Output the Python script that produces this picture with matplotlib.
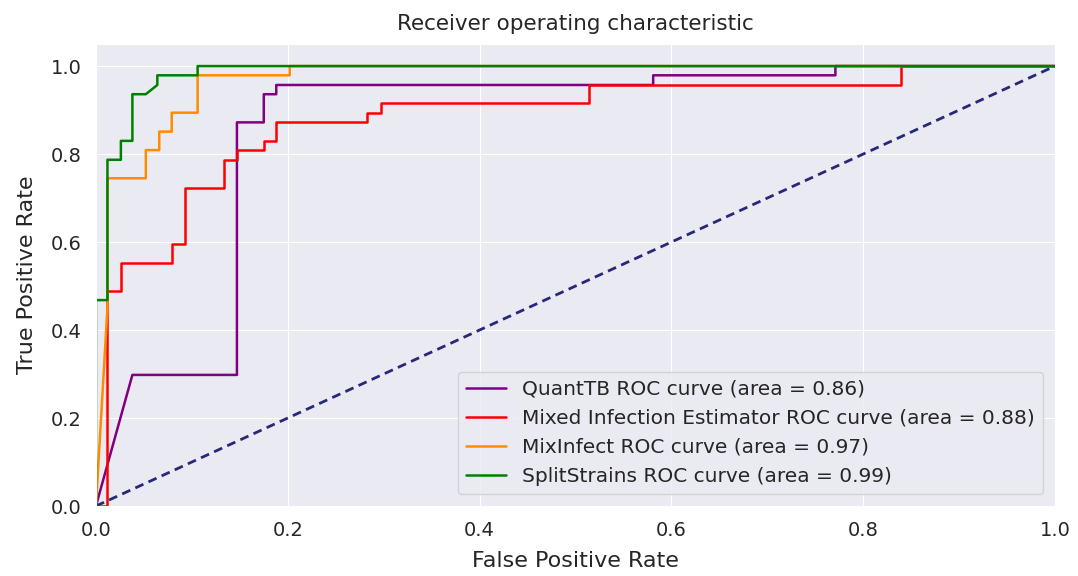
import matplotlib
matplotlib.use('Agg')
import matplotlib.pyplot as plt
import seaborn as sns

# ROC curves (fpr, tpr)
quanttb_fpr = [0.0, 0.038, 0.147, 0.147, 0.175, 0.175, 0.188, 0.188, 0.581, 0.581, 0.771, 0.771, 1.0]
quanttb_tpr = [0.0, 0.298, 0.298, 0.872, 0.872, 0.936, 0.936, 0.957, 0.957, 0.979, 0.979, 1.0, 1.0]

mie_fpr = [0.0, 0.012, 0.012, 0.026, 0.026, 0.079, 0.079, 0.093, 0.093, 0.134, 0.134, 0.147, 0.147,
           0.175, 0.175, 0.188, 0.188, 0.283, 0.283, 0.297, 0.297, 0.514, 0.514, 0.839, 0.839, 1.0]
mie_tpr = [0.0, 0.0, 0.489, 0.489, 0.553, 0.553, 0.596, 0.596, 0.723, 0.723, 0.787, 0.787, 0.809,
           0.809, 0.830, 0.830, 0.872, 0.872, 0.894, 0.894, 0.915, 0.915, 0.957, 0.957, 1.0, 1.0]

mixinfect_fpr = [0.0, 0.012, 0.012, 0.052, 0.052, 0.066, 0.066, 0.079, 0.079, 0.106, 0.106, 0.202, 0.202, 1.0]
mixinfect_tpr = [0.0, 0.45, 0.745, 0.745, 0.809, 0.809, 0.851, 0.851, 0.894, 0.894, 0.979, 0.979, 1.0, 1.0]

splitstrains_fpr = [0.0, 0.0, 0.012, 0.012, 0.026, 0.026, 0.038, 0.038, 0.052, 0.064, 0.064, 0.106, 0.106, 1.0]
splitstrains_tpr = [0.0, 0.468, 0.468, 0.787, 0.787, 0.830, 0.830, 0.936, 0.936, 0.957, 0.979, 0.979, 1.0, 1.0]

names = ['QuantTB', 'Mixed Infection Estimator', 'MixInfect', 'SplitStrains']
areas = [0.86, 0.88, 0.97, 0.99]
colors = ['purple', 'red', 'darkorange', 'green']

sns.set_style('darkgrid')
plt.rcParams['font.family'] = ['DejaVu Sans']

fig = plt.figure(figsize=(10.78, 5.76), dpi=100)
ax = fig.add_axes([0.089, 0.1215, 0.8897, 0.802])

curves = [(quanttb_fpr, quanttb_tpr),
          (mie_fpr, mie_tpr),
          (mixinfect_fpr, mixinfect_tpr),
          (splitstrains_fpr, splitstrains_tpr)]

for (fpr, tpr), name, area, color in zip(curves, names, areas, colors):
    ax.plot(fpr, tpr,
            color=color,
            lw=1.8,
            label='{0} ROC curve (area = {1:0.2f})'.format(name, area))

ax.plot([0, 1], [0, 1], color='#282878', lw=2, linestyle='--', dashes=(3.2, 2))

ax.set_xlim(0.0, 1.0)
ax.set_ylim(0.0, 1.05)

ax.tick_params(labelsize=14, pad=7)
ax.set_xlabel('False Positive Rate', fontsize=16, labelpad=8)
ax.set_ylabel('True Positive Rate', fontsize=16, labelpad=10)
ax.set_title('Receiver operating characteristic', fontsize=15.5, pad=10)

ax.legend(loc='lower right', fontsize=14.5, borderaxespad=0.6)

fig.savefig('out.png', dpi=100)
